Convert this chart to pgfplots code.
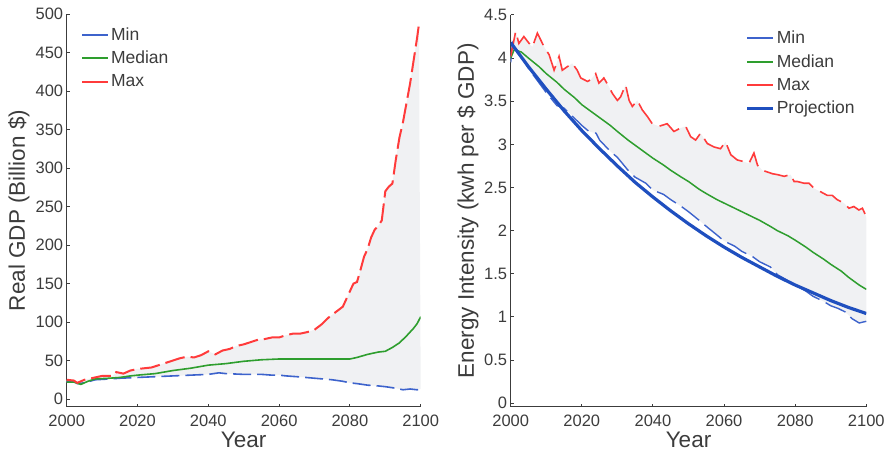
\documentclass[border=0pt]{standalone}
\usepackage{pgfplots}
\pgfplotsset{compat=1.18}
\usepackage{pgfplotstable}
\usepgfplotslibrary{fillbetween}
\usepackage{fontspec}
\setmainfont{Liberation Sans}
\definecolor{txt}{HTML}{3C3C3C}
\definecolor{mblue}{HTML}{3D63CC}
\definecolor{mgreen}{HTML}{2E9E2E}
\definecolor{mred}{HTML}{FF3B3B}
\definecolor{pblue}{HTML}{1F4FBF}
\definecolor{band}{HTML}{F0F1F3}

\pgfplotstableread{
x y
2000 22
2002 23
2003 20
2005 21
2008 25
2012 26
2015 27
2020 28
2025 29
2030 30
2035 31
2040 32
2043 34
2045 33
2050 32
2055 32
2058 31
2060 31
2062 30
2065 29
2070 27
2075 25
2078 23
2080 21
2082 20
2085 18
2088 17
2090 16
2093 14
2095 12
2097 13
2099 12
2100 13
}\gdpmin
\pgfplotstableread{
x y
2000 22
2002 22
2004 19
2006 23
2008 26
2012 27
2015 28
2018 30
2020 31
2025 33
2030 37
2035 40
2040 44
2045 46
2050 49
2055 51
2060 52
2065 52
2070 52
2075 52
2080 52
2082 54
2085 58
2088 61
2090 62
2092 67
2094 73
2096 82
2098 92
2099 98
2100 107
}\gdpmed
\pgfplotstableread{
x y
2000 25
2002 24
2003 21
2005 25
2008 28
2010 30
2013 30
2014 35
2016 33
2018 37
2020 39
2022 40
2024 41
2026 44
2028 47
2030 50
2032 53
2034 55
2036 54
2038 57
2040 62
2042 58
2044 63
2046 65
2048 69
2050 71
2052 74
2054 77
2056 78
2058 80
2060 80
2062 83
2064 85
2066 85
2068 87
2070 90
2072 97
2074 106
2076 113
2078 120
2080 140
2081 150
2082 152
2083 168
2084 185
2085 195
2086 210
2087 220
2088 225
2089 232
2090 270
2091 276
2092 280
2093 312
2094 340
2095 360
2096 385
2097 410
2098 440
2099 470
2099.5 487
}\gdpmax

\pgfplotstableread{
x y
2000 3.95
2000.5 4.18
2005 3.88
2010 3.60
2013 3.45
2015 3.42
2018 3.30
2020 3.22
2022 3.15
2024 3.13
2025 3.05
2028 2.92
2030 2.85
2033 2.70
2035 2.62
2038 2.55
2040 2.47
2043 2.42
2045 2.36
2048 2.28
2050 2.22
2053 2.12
2055 2.05
2058 1.95
2060 1.88
2063 1.82
2065 1.76
2068 1.70
2070 1.64
2073 1.58
2075 1.49
2078 1.42
2080 1.37
2083 1.30
2085 1.24
2088 1.18
2090 1.13
2092 1.10
2094 1.06
2096 0.98
2098 0.93
2099 0.94
2100 0.95
}\eimin
\pgfplotstableread{
x y
2000 4.00
2001 4.10
2003 4.07
2005 4.00
2008 3.90
2010 3.82
2013 3.72
2015 3.64
2018 3.54
2020 3.46
2023 3.37
2025 3.31
2028 3.22
2030 3.15
2033 3.05
2035 2.99
2038 2.90
2040 2.84
2043 2.76
2045 2.70
2048 2.62
2050 2.57
2053 2.48
2055 2.43
2058 2.36
2060 2.32
2063 2.26
2065 2.22
2068 2.16
2070 2.12
2073 2.05
2075 2.00
2078 1.94
2080 1.89
2083 1.81
2085 1.75
2088 1.67
2090 1.61
2093 1.53
2095 1.46
2098 1.37
2100 1.32
}\eimed
\pgfplotstableread{
x y
2000 4.02
2001.4 4.31
2002.3 4.17
2003.7 4.25
2005.2 4.17
2006.1 4.13
2007.5 4.29
2009.4 4.13
2010.8 4.04
2012.2 3.86
2013.6 4.02
2014.5 3.86
2015.9 3.90
2017.3 3.94
2018.7 3.86
2019.7 3.77
2021.6 3.73
2022.5 3.75
2023.9 3.82
2024.8 3.71
2026.2 3.77
2027.6 3.67
2028.6 3.59
2030.0 3.51
2030.9 3.55
2032.3 3.69
2033.3 3.51
2034.2 3.44
2035.6 3.51
2037.0 3.40
2038.5 3.32
2039.8 3.24
2041.7 3.21
2044.0 3.24
2045.9 3.15
2047.8 3.19
2049.2 3.21
2050.6 3.09
2052.0 3.05
2053.4 3.13
2055.3 3.01
2057.2 2.97
2059.0 2.95
2060.4 3.03
2061.9 2.88
2063.7 2.82
2065.6 2.80
2067.0 2.78
2068.4 2.90
2069.4 2.76
2070.8 2.70
2072.2 2.68
2073.6 2.66
2075.0 2.65
2076.9 2.63
2078.7 2.65
2079.7 2.57
2080.6 2.57
2082.5 2.55
2083.9 2.55
2085.3 2.49
2087.2 2.45
2089.0 2.41
2090.4 2.41
2091.8 2.36
2093.7 2.32
2095.1 2.26
2096.5 2.28
2097.9 2.24
2098.9 2.26
2099.8 2.18
2100 2.15
}\eimax
\pgfplotstableread{
x y
2000 4.18
2005 3.90
2010 3.64
2015 3.39
2020 3.16
2025 2.95
2030 2.75
2035 2.56
2040 2.39
2045 2.23
2050 2.08
2055 1.94
2060 1.81
2065 1.69
2070 1.58
2075 1.47
2080 1.37
2085 1.28
2090 1.19
2095 1.11
2100 1.04
}\eiproj

\pgfplotsset{
  mystyle/.style={
    scale only axis, axis lines=left, axis line style={-, txt, line width=1.3pt},
    tick align=inside, major tick length=3pt, tick style={txt, line width=1pt},
    xmin=2000, xmax=2100, xtick={2000,2020,...,2100},
    /pgf/number format/1000 sep={}, /pgf/number format/assume math mode=true,
    ticklabel style={font=\fontsize{16.5}{18}\selectfont, text=txt},
    xticklabel style={yshift=-5pt},
    xlabel={Year},
    xlabel style={font=\fontsize{22.5}{26}\selectfont, text=txt, at={(axis description cs:0.5,0)}, anchor=base, yshift=-41pt},
    legend cell align=left,
    legend style={draw=none, fill=none, font=\fontsize{17.5}{20}\selectfont, text=txt, row sep=5.5pt, anchor=north west, inner sep=0pt},
    legend image code/.code={\draw[##1] (0pt,0pt) -- (26pt,0pt);},
  }
}

\begin{document}
\begin{tikzpicture}
\begin{axis}[mystyle, at={(66.7pt,47.3pt)}, anchor=south west,
  width=354pt, height=392.4pt, ymin=-10, ymax=500, ytick={0,50,...,500},
  ylabel={Real GDP (Billion \$)},
  ylabel style={font=\fontsize{22.5}{26}\selectfont, text=txt, at={(axis description cs:0,0.5)}, anchor=north, inner sep=0pt, yshift=58.7pt},
  legend style={at={(axis description cs:0.04,0.972)}}]
\addlegendimage{mblue, line width=2pt}
\addlegendentry{Min}
\addlegendimage{mgreen, line width=2pt}
\addlegendentry{Median}
\addlegendimage{mred, line width=2pt}
\addlegendentry{Max}
\addplot[name path=A, draw=none, forget plot] table {\gdpmin};
\addplot[name path=B, draw=none, forget plot] table {\gdpmax};
\addplot[band, draw=none, forget plot] fill between[of=A and B];
\addplot[mblue, line width=1.6pt, dash pattern=on 18pt off 6pt, forget plot] table {\gdpmin};
\addplot[mgreen, line width=1.6pt, forget plot] table {\gdpmed};
\addplot[mred, line width=2pt, dash pattern=on 20pt off 6pt, forget plot] table {\gdpmax};
\end{axis}
\begin{axis}[mystyle, at={(510.7pt,47.3pt)}, anchor=south west,
  width=355.6pt, height=391.7pt, ymin=-0.04, ymax=4.5, ytick={0,0.5,...,4.5},
  ylabel={Energy Intensity (kwh per \$ GDP)},
  ylabel style={font=\fontsize{22.5}{26}\selectfont, text=txt, at={(axis description cs:0,0.5)}, anchor=north, inner sep=0pt, yshift=53.7pt},
  legend style={at={(axis description cs:0.66,0.965)}}]
\addlegendimage{mblue, line width=2pt}
\addlegendentry{Min}
\addlegendimage{mgreen, line width=2pt}
\addlegendentry{Median}
\addlegendimage{mred, line width=2pt}
\addlegendentry{Max}
\addlegendimage{pblue, line width=3.2pt}
\addlegendentry{Projection}
\addplot[name path=C, draw=none, forget plot] table {\eimin};
\addplot[name path=D, draw=none, forget plot] table {\eimax};
\addplot[band, draw=none, forget plot] fill between[of=C and D];
\addplot[mblue, line width=1.4pt, dash pattern=on 22pt off 7pt, forget plot] table {\eimin};
\addplot[mgreen, line width=1.5pt, forget plot] table {\eimed};
\addplot[mred, line width=1.6pt, dash pattern=on 24pt off 8pt, forget plot] table {\eimax};
\addplot[pblue, line width=3.2pt, forget plot] table {\eiproj};
\end{axis}
\pgfresetboundingbox
\path[use as bounding box] (0,0) rectangle (888pt,454pt);
\end{tikzpicture}
\end{document}
